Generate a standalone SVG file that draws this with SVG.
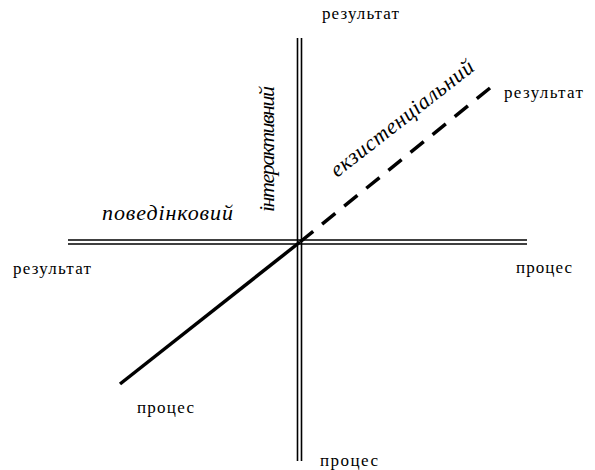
<svg xmlns="http://www.w3.org/2000/svg" width="595" height="470" viewBox="0 0 595 470">
<style>
text{font-family:'Liberation Serif','DejaVu Serif','Times New Roman',serif;fill:#000}
.lbl{font-size:17px}
.it{font-size:22px;font-style:italic}
.dbl{stroke:#000;stroke-width:1.6;fill:none}
</style>
<rect width="595" height="470" fill="#fff"/>
<g id="connectors">
<g id="axis-vertical">
<line class="dbl" x1="297.5" y1="38" x2="297.5" y2="461"/>
<line class="dbl" x1="301.5" y1="38" x2="301.5" y2="461"/>
</g>
<g id="axis-horizontal">
<line class="dbl" x1="68" y1="240" x2="527" y2="240"/>
<line class="dbl" x1="68" y1="244" x2="527" y2="244"/>
</g>
<line id="axis-diag-solid" x1="120" y1="384" x2="300" y2="242" stroke="#000" stroke-width="3.5"/>
<line id="axis-diag-dashed" x1="300" y1="242" x2="490" y2="88" stroke="#000" stroke-width="3.5" stroke-dasharray="17,11.45"/>
</g>
<g id="labels">
<text class="lbl" x="322" y="19" textLength="77">результат</text>
<text class="lbl" x="504" y="98" textLength="79">результат</text>
<text class="lbl" x="13" y="274" textLength="78">результат</text>
<text class="lbl" x="516" y="273" textLength="56">процес</text>
<text class="lbl" x="137" y="413" textLength="57">процес</text>
<text class="lbl" x="320" y="466" textLength="58">процес</text>
<text class="it" x="102" y="220" textLength="131">поведінковий</text>
<text class="it" transform="translate(274,212) rotate(-90)" textLength="126">інтерактивний</text>
<text class="it" transform="translate(337,178) rotate(-38)" textLength="176">екзистенціальний</text>
</g>
</svg>
